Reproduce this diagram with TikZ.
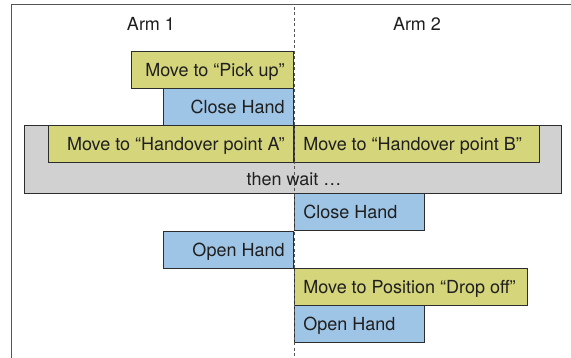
\documentclass[tikz,border=0pt]{standalone}
\usepackage{fontspec}
\setmainfont{TeX Gyre Heros}
\definecolor{movecol}{RGB}{213,213,124}
\definecolor{handcol}{RGB}{158,196,230}
\definecolor{waitcol}{RGB}{208,209,208}
\definecolor{edgecol}{RGB}{45,45,45}
\definecolor{framecol}{RGB}{85,85,85}
\tikzset{
  task/.style={draw=edgecol, line width=0.9pt, minimum height=37pt,
               inner xsep=9pt, inner ysep=0pt, text height=17pt, text depth=4pt,
               text=black!88},
  waitbox/.style={draw=edgecol, line width=0.9pt, fill=waitcol, anchor=north west,
                  minimum width=537pt, minimum height=68pt},
  armlabel/.style={text=black!88}
}
\newcommand{\taskleft}[5]{
  \node[task, fill=#4, anchor=north east] (#1) at (294,#2) {\makebox[#3pt][r]{#5}};
}
\newcommand{\taskright}[5]{
  \node[task, fill=#4, anchor=north west] (#1) at (294,#2) {\makebox[#3pt][l]{#5}};
}

\begin{document}
\begin{tikzpicture}[x=1pt, y=-1pt, font=\fontsize{18}{21}\selectfont]
	\useasboundingbox (0,0) rectangle (571,358);
	\draw[framecol, line width=0.9pt] (11.5,358) -- (11.5,4) -- (571,4);
	\node[armlabel] (arm1) at (151,24) {Arm 1};
	\node[armlabel] (arm2) at (417,24) {Arm 2};
	% hand-over phase
	\node[waitbox] (wait) at (24,125) {};
	\node[armlabel] (waittext) at (294,179) {then wait …};
	% arm 1 / arm 2 steps
	\taskleft{pick}{51}{144}{movecol}{Move to “Pick up”}
	\taskleft{close1}{88}{112}{handcol}{Close Hand}
	\taskleft{handA}{125}{227}{movecol}{Move to “Handover point A”}
	\taskright{handB}{125}{227}{movecol}{Move to “Handover point B”}
	\taskright{close2}{193}{112}{handcol}{Close Hand}
	\taskleft{open1}{231}{112}{handcol}{Open Hand}
	\taskright{drop}{268}{215}{movecol}{Move to Position “Drop off”}
	\taskright{open2}{305}{112}{handcol}{Open Hand}
	% divider between the arms
	\coordinate (divtop) at (294,7);
	\coordinate (divbot) at (294,358);
	\draw[framecol, line width=0.9pt, dash pattern=on 3pt off 2.5pt] (divtop) -- (divbot);
\end{tikzpicture}
\end{document}
